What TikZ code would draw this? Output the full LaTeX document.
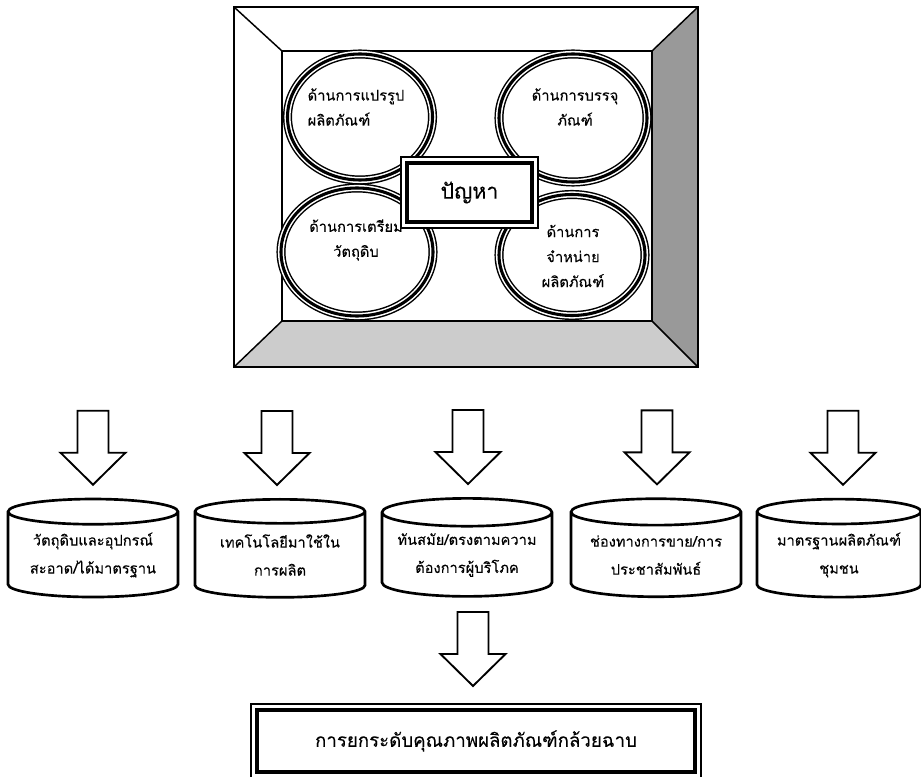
\documentclass[tikz,border=0pt]{standalone}
\usepackage{fontspec}
\newfontfamily\thaifont[Script=Thai, FakeBold=0.2]{Loma}
\usetikzlibrary{shapes.geometric,calc}

\tikzset{
  ring/.style={ellipse, inner sep=0pt,
    preaction={draw, line width=6.8pt},
    preaction={draw, white, line width=4.6pt},
    draw, line width=2.3pt},
  ringtext/.style={font=\thaifont\fontsize{11}{18.75}\selectfont, inner sep=0pt},
  framebox/.style={rectangle, inner sep=0pt, fill=white,
    preaction={draw, line width=10.2pt},
    preaction={draw, white, line width=8.2pt},
    draw, line width=3pt},
  drum/.style={cylinder, shape border rotate=90, aspect=0.2, draw,
    line width=2pt, fill=white, minimum width=127.5pt, minimum height=73.5pt,
    inner sep=0pt, align=center, font=\thaifont\fontsize{11}{21}\selectfont},
  blockarrow/.pic={
    \draw[line width=1.4pt, fill=white] (0,0) -- (-32.5,-32) -- (-15.5,-32)
      -- (-15.5,-74) -- (15.5,-74) -- (15.5,-32) -- (32.5,-32) -- cycle;
  }
}

\begin{document}
\begin{tikzpicture}[x=0.75pt,y=-0.75pt]
    \useasboundingbox (0,0) rectangle (921,777);
    % frame
    \fill[black!20] (234,367) -- (282,321) -- (652,321) -- (698,367) -- cycle;
    \fill[black!40] (698,7) -- (652,51) -- (652,321) -- (698,367) -- cycle;
    \draw[line width=1.1pt] (234,7) rectangle (698,367);
    \draw[line width=1.1pt] (282,51) rectangle (652,321);
    \draw[line width=1.1pt] (234,7) -- (282,51);
    \draw[line width=1.1pt] (698,7) -- (652,51);
    \draw[line width=1.1pt] (234,367) -- (282,321);
    \draw[line width=1.1pt] (698,367) -- (652,321);

    \node[ring, minimum width=108.75pt, minimum height=94.5pt] (tl) at (360,117) {};
    \node[ring, minimum width=111pt, minimum height=96pt] (tr) at (573,118) {};
    \node[ring, minimum width=114pt, minimum height=96pt] (bl) at (357,252) {};
    \node[ring, minimum width=109.5pt, minimum height=90.75pt] (br) at (572,255) {};

    \node[ringtext, align=left] (tlt) at (356,107) {ด้านการแปรรูป\\ผลิตภัณฑ์};
    \node[ringtext, align=center] (trt) at (575,107) {ด้านการบรรจุ\\ภัณฑ์};
    \node[ringtext, align=center] (blt) at (356,240) {ด้านการเตรียม\\วัตถุดิบ};
    \node[ringtext, align=center] (brt) at (573,256) {ด้านการ\\จำหน่าย\\ผลิตภัณฑ์};

    \node[framebox, minimum width=93.75pt, minimum height=44.25pt,
      font=\thaifont\fontsize{16}{20}\selectfont] (prob) at (469.5,192.5) {ปัญหา};

    % factors
    \node[drum] (c1) at (93,555) {วัตถุดิบและอุปกรณ์\\สะอาด/ได้มาตรฐาน};
    \node[drum] (c2) at (280,555) {เทคโนโลยีมาใช้ใน\\การผลิต};
    \node[drum] (c3) at (467,555) {ทันสมัย/ตรงตามความ\\ต้องการผู้บริโภค};
    \node[drum] (c4) at (656,555) {ช่องทางการขาย/การ\\ประชาสัมพันธ์};
    \node[drum, minimum width=123pt] (c5) at (839,555) {มาตรฐานผลิตภัณฑ์\\ชุมชน};

    \node[framebox, minimum width=328.5pt, minimum height=46.5pt,
      font=\thaifont\fontsize{14}{18}\selectfont] (goal) at (476,741) {การยกระดับคุณภาพผลิตภัณฑ์กล้วยฉาบ};

    \pic at ($(c1.north)+(0,-13)$) {blockarrow};
    \pic at ($(c2.north)+(-3,-13)$) {blockarrow};
    \pic at ($(c3.north)+(1,-13)$) {blockarrow};
    \pic at ($(c4.north)+(1,-13)$) {blockarrow};
    \pic at ($(c5.north)+(4,-13)$) {blockarrow};
    \pic at ($(goal.north)+(-3,-22)$) {blockarrow};
\end{tikzpicture}
\end{document}
